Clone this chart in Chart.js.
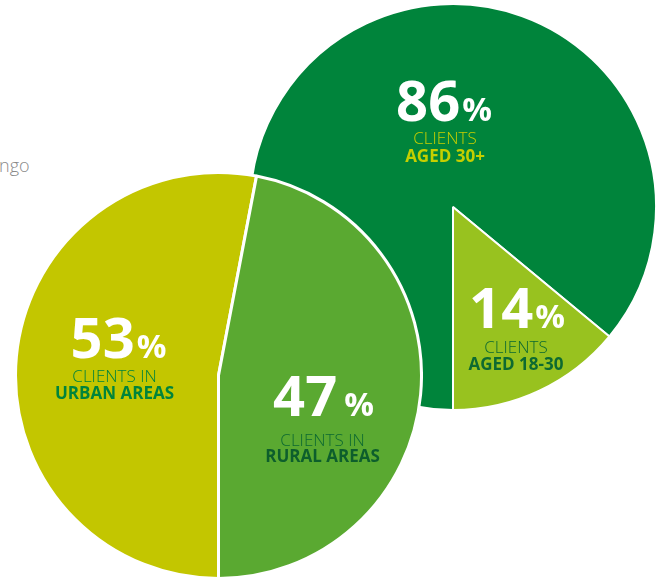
<!DOCTYPE html>
<html lang="en">
<head>
    <meta charset="UTF-8">
    <title>Clients</title>
    <script src="https://cdn.jsdelivr.net/npm/chart.js"></script>
    <style>
        body {
            margin: 0;
            background: #ffffff;
        }
        #wrap {
            position: relative;
            width: 661px;
            height: 580px;
            overflow: hidden;
        }
        #wrap canvas {
            position: absolute;
        }
        #ageChart {
            left: 249px;
            top: 3px;
            z-index: 1;
        }
        #areaChart {
            left: 14px;
            top: 171px;
            z-index: 2;
        }
        #country {
            position: absolute;
            left: -1px;
            top: 153px;
            font-family: 'Open Sans', sans-serif;
            font-weight: 300;
            font-size: 18px;
            color: #8a8a8a;
        }
    </style>
</head>
<body>
    <div id="wrap">
        <div id="country">ngo</div>
        <canvas id="ageChart" width="408" height="408"></canvas>
        <canvas id="areaChart" width="409" height="409"></canvas>
    </div>
    <script>
        // clients by age
        var ageLabels = ['AGED 30+', 'AGED 18-30'];
        var ageValues = [86, 14];
        var ageColors = ['#00843b', '#98c21f'];

        // clients by area
        var areaLabels = ['URBAN AREAS', 'RURAL AREAS'];
        var areaValues = [53, 47];
        var areaColors = ['#c3c600', '#5aa931'];

        // where each label sits, relative to the pie centre
        var ageLayout = [
            {dx: -9, dy: -86, cx: 1, l1: 23, l2: 41, gap: 2, top: 'CLIENTS', c1: '#c5cf00', c2: '#c5cf00'},
            {dx: 64, dy: 121, cx: -1, l1: 25, l2: 42, gap: 2, top: 'CLIENTS', c1: '#0d6a31', c2: '#0d6a31'}
        ];
        var areaLayout = [
            {dx: -100, dy: -18, cx: -4, l1: 24, l2: 41, gap: 2, top: 'CLIENTS IN', c1: '#00843b', c2: '#00843b'},
            {dx: 105, dy: 40, cx: -1, l1: 30, l2: 46, gap: 7, top: 'CLIENTS IN', c1: '#0d6a31', c2: '#0d5e2c'}
        ];

        var FONT = "'Open Sans', sans-serif";

        // writes the big percentage and the two caption lines on each slice
        function labelPlugin(layout, names) {
            return {
                id: 'sliceLabels',
                afterDraw: function(chart) {
                    var ctx = chart.ctx;
                    var arcs = chart.getDatasetMeta(0).data;
                    var values = chart.data.datasets[0].data;
                    ctx.save();
                    ctx.textBaseline = 'alphabetic';
                    for (var i = 0; i < arcs.length; i++) {
                        var L = layout[i];
                        var x = arcs[i].x + L.dx;
                        var y = arcs[i].y + L.dy;

                        var num = String(values[i]);
                        ctx.font = 'bold 56px ' + FONT;
                        var wNum = ctx.measureText(num).width;
                        ctx.font = 'bold 33px ' + FONT;
                        var wPct = ctx.measureText('%').width;
                        var start = x - (wNum + L.gap + wPct) / 2;

                        ctx.fillStyle = '#ffffff';
                        ctx.textAlign = 'left';
                        ctx.font = 'bold 56px ' + FONT;
                        ctx.fillText(num, start, y);
                        ctx.font = 'bold 33px ' + FONT;
                        ctx.fillText('%', start + wNum + L.gap, y);

                        ctx.textAlign = 'center';
                        ctx.font = '300 17px ' + FONT;
                        ctx.fillStyle = L.c1;
                        ctx.fillText(L.top, x + L.cx, y + L.l1);
                        ctx.font = 'bold 17px ' + FONT;
                        ctx.fillStyle = L.c2;
                        ctx.fillText(names[i], x + L.cx, y + L.l2);
                    }
                    ctx.restore();
                }
            };
        }

        function makePie(id, labels, values, colors, border, layout) {
            var ctx = document.getElementById(id).getContext('2d');
            return new Chart(ctx, {
                type: 'pie',
                data: {
                    labels: labels,
                    datasets: [{
                        data: values,
                        backgroundColor: colors,
                        borderColor: '#ffffff',
                        borderWidth: border,
                        hoverOffset: 0,
                        hoverBorderWidth: border
                    }]
                },
                options: {
                    responsive: false,
                    animation: false,
                    // first slice starts at the bottom and runs clockwise
                    rotation: 180,
                    events: [],
                    layout: { padding: 0 },
                    plugins: {
                        legend: { display: false },
                        tooltip: { enabled: false }
                    }
                },
                plugins: [labelPlugin(layout, labels)]
            });
        }

        makePie('ageChart', ageLabels, ageValues, ageColors, 2, ageLayout);
        makePie('areaChart', areaLabels, areaValues, areaColors, 3, areaLayout);
    </script>
</body>
</html>
